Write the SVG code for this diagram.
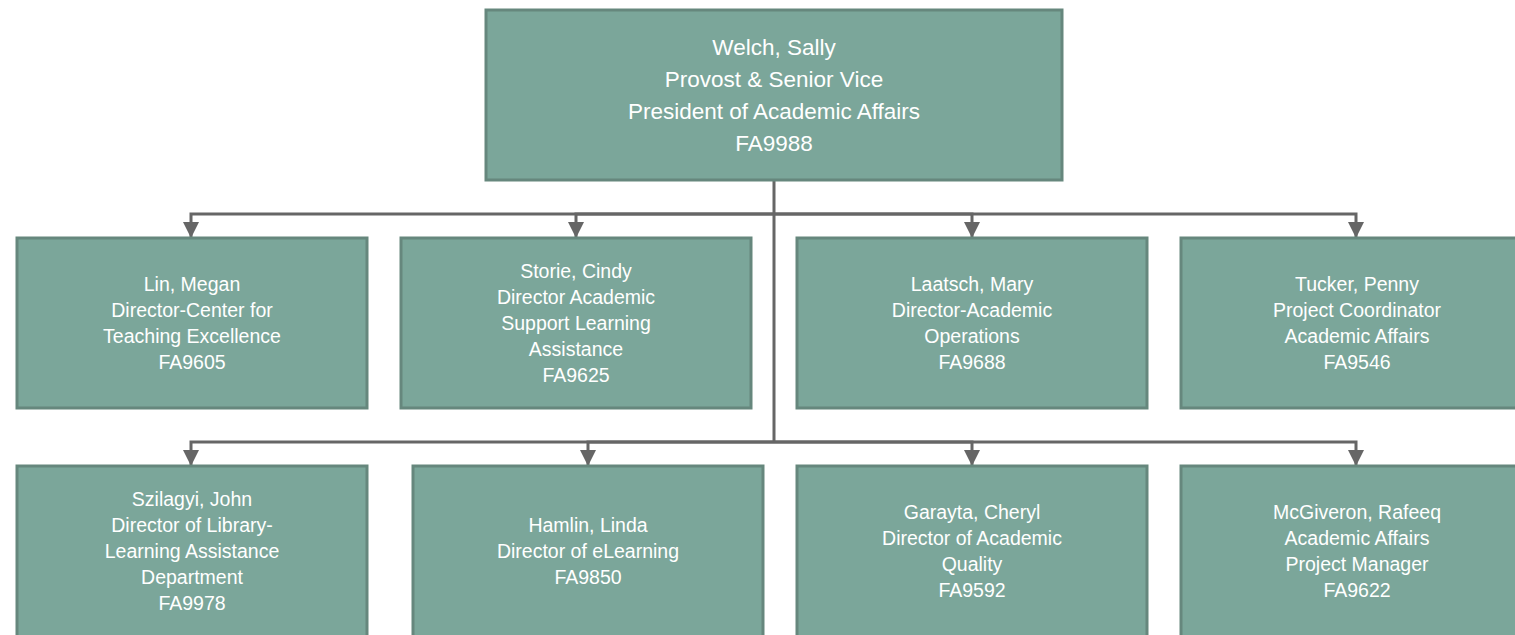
<svg xmlns="http://www.w3.org/2000/svg" width="1515" height="635" viewBox="0 0 1515 635">
<style>
.box{fill:#7ba69a;stroke:#66877d;stroke-width:3}
.t{font-family:"Liberation Sans",Arial,sans-serif;fill:#ffffff;text-anchor:middle;font-size:19.5px}
.tt{font-size:22.5px}
.ln{fill:none;stroke:#666666;stroke-width:3}
</style>
<defs>
<marker id="ah" viewBox="0 0 10 10" refX="10" refY="5" markerWidth="5.5" markerHeight="5.5" orient="auto" markerUnits="strokeWidth">
<path d="M0,0 L10,5 L0,10 z" fill="#666666"/>
</marker>
</defs>
<g id="connectors">
<path class="ln" d="M774,180 V442"/>
<path class="ln" d="M774,214 H191 V238" marker-end="url(#ah)"/>
<path class="ln" d="M774,214 H576 V238" marker-end="url(#ah)"/>
<path class="ln" d="M774,214 H972 V238" marker-end="url(#ah)"/>
<path class="ln" d="M774,214 H1356 V238" marker-end="url(#ah)"/>
<path class="ln" d="M774,442 H191 V466" marker-end="url(#ah)"/>
<path class="ln" d="M774,442 H588 V466" marker-end="url(#ah)"/>
<path class="ln" d="M774,442 H972 V466" marker-end="url(#ah)"/>
<path class="ln" d="M774,442 H1356 V466" marker-end="url(#ah)"/>
</g>
<g id="welch">
<rect class="box" x="486" y="10" width="576" height="170"/>
<text class="t tt"><tspan x="774" y="55">Welch, Sally</tspan><tspan x="774" y="87">Provost &amp; Senior Vice</tspan><tspan x="774" y="119">President of Academic Affairs</tspan><tspan x="774" y="151">FA9988</tspan></text>
</g>
<g id="lin">
<rect class="box" x="17" y="238" width="350" height="170"/>
<text class="t"><tspan x="192" y="291">Lin, Megan</tspan><tspan x="192" y="317">Director-Center for</tspan><tspan x="192" y="343">Teaching Excellence</tspan><tspan x="192" y="369">FA9605</tspan></text>
</g>
<g id="storie">
<rect class="box" x="401" y="238" width="350" height="170"/>
<text class="t"><tspan x="576" y="278">Storie, Cindy</tspan><tspan x="576" y="304">Director Academic</tspan><tspan x="576" y="330">Support Learning</tspan><tspan x="576" y="356">Assistance</tspan><tspan x="576" y="382">FA9625</tspan></text>
</g>
<g id="laatsch">
<rect class="box" x="797" y="238" width="350" height="170"/>
<text class="t"><tspan x="972" y="291">Laatsch, Mary</tspan><tspan x="972" y="317">Director-Academic</tspan><tspan x="972" y="343">Operations</tspan><tspan x="972" y="369">FA9688</tspan></text>
</g>
<g id="tucker">
<rect class="box" x="1181" y="238" width="350" height="170"/>
<text class="t"><tspan x="1357" y="291">Tucker, Penny</tspan><tspan x="1357" y="317">Project Coordinator</tspan><tspan x="1357" y="343">Academic Affairs</tspan><tspan x="1357" y="369">FA9546</tspan></text>
</g>
<g id="szilagyi">
<rect class="box" x="17" y="466" width="350" height="172"/>
<text class="t"><tspan x="192" y="506">Szilagyi, John</tspan><tspan x="192" y="532">Director of Library-</tspan><tspan x="192" y="558">Learning Assistance</tspan><tspan x="192" y="584">Department</tspan><tspan x="192" y="610">FA9978</tspan></text>
</g>
<g id="hamlin">
<rect class="box" x="413" y="466" width="350" height="172"/>
<text class="t"><tspan x="588" y="532">Hamlin, Linda</tspan><tspan x="588" y="558">Director of eLearning</tspan><tspan x="588" y="584">FA9850</tspan></text>
</g>
<g id="garayta">
<rect class="box" x="797" y="466" width="350" height="172"/>
<text class="t"><tspan x="972" y="519">Garayta, Cheryl</tspan><tspan x="972" y="545">Director of Academic</tspan><tspan x="972" y="571">Quality</tspan><tspan x="972" y="597">FA9592</tspan></text>
</g>
<g id="mcgiveron">
<rect class="box" x="1181" y="466" width="350" height="172"/>
<text class="t"><tspan x="1357" y="519">McGiveron, Rafeeq</tspan><tspan x="1357" y="545">Academic Affairs</tspan><tspan x="1357" y="571">Project Manager</tspan><tspan x="1357" y="597">FA9622</tspan></text>
</g>
</svg>
